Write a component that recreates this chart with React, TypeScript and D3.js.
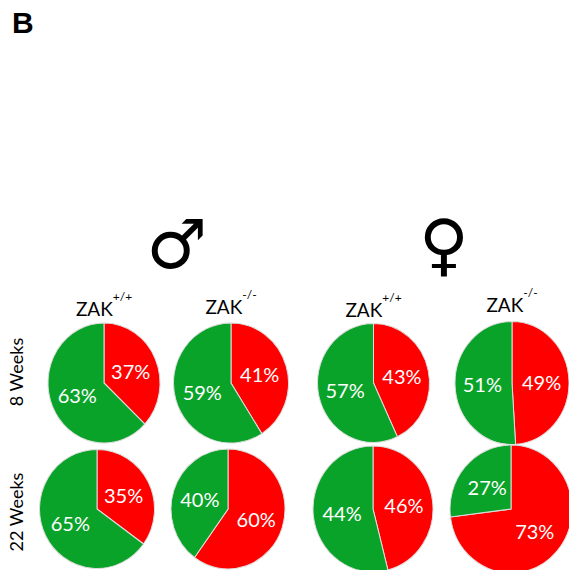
import * as d3 from 'd3'
import { useEffect, useRef } from 'react'

// data
const columns = ['M +/+', 'M -/-', 'F +/+', 'F -/-']
const genotypes = ['+/+', '-/-', '+/+', '-/-']
const sexes = ['♂', '♀']
const rows = ['8 Weeks', '22 Weeks']
// red share per pie (slice size), row by row
const redShare = [
  [37, 41, 43, 49],
  [35, 60, 46, 73],
]
// printed labels (as in the figure)
const redLabels = [
  ['37%', '41%', '43%', '49%'],
  ['35%', '60%', '46%', '73%'],
]
const greenLabels = [
  ['63%', '59%', '57%', '51%'],
  ['65%', '40%', '44%', '27%'],
]

const W = 569
const H = 570
const GREEN = '#09a329'
const RED = '#ff0000'
const LABEL_FONT = 'Lato, "Open Sans", sans-serif'

// layout
const colX = [
  [104, 231, 373.5, 512],
  [97, 228, 373, 511],
]
const rowY = [383, 509]
const radX = [
  [56, 57.5, 56, 57],
  [57.5, 57, 60, 61],
]
const radY = [
  [60, 60, 59.5, 61.5],
  [59.5, 60, 63, 64],
]

const App = () => {
  const ref = useRef<SVGSVGElement>(null)

  useEffect(() => {
    const svg = d3.select(ref.current)
    svg.selectAll('*').remove()
    svg.attr('width', W).attr('height', H)

    svg
      .append('text')
      .attr('x', 12)
      .attr('y', 33)
      .attr('font-family', '"Liberation Sans", Arial, sans-serif')
      .attr('font-weight', 'bold')
      .attr('font-size', 30)
      .text('B')

    // sex symbols
    const sexX = [177, 444]
    svg
      .selectAll('text.sex')
      .data(sexes)
      .join('text')
      .attr('class', 'sex')
      .attr('x', (d, i) => sexX[i])
      .attr('y', 268)
      .attr('text-anchor', 'middle')
      .attr('font-family', '"DejaVu Sans", sans-serif')
      .attr('font-size', 68)
      .text((d) => d)

    // headers
    const headY = [316, 314, 317, 312]
    columns.forEach((c, j) => {
      const t = svg
        .append('text')
        .attr('x', colX[0][j])
        .attr('y', headY[j])
        .attr('text-anchor', 'middle')
        .attr('font-family', LABEL_FONT)
        .attr('font-size', 19)
        .attr('fill', '#000')
        .text('ZAK')
      t.append('tspan')
        .attr('dy', -15)
        .attr('font-size', 12)
        .text(genotypes[j])
    })

    // row labels
    const rowLabelY = [372, 512]
    rows.forEach((r, i) => {
      svg
        .append('text')
        .attr('transform', `translate(23, ${rowLabelY[i]}) rotate(-90)`)
        .attr('text-anchor', 'middle')
        .attr('font-family', LABEL_FONT)
        .attr('font-size', 18)
        .text(r)
    })

    const pie = d3
      .pie<number>()
      .sort(null)
      .value((d) => d)

    rows.forEach((r, i) => {
      columns.forEach((c, j) => {
        const rx = radX[i][j]
        const ry = radY[i][j]
        const arcs = pie([redShare[i][j], 100 - redShare[i][j]])
        const arc = d3.arc<d3.PieArcDatum<number>>().innerRadius(0).outerRadius(rx)
        const g = svg
          .append('g')
          .attr('transform', `translate(${colX[i][j]}, ${rowY[i]})`)
        g.append('g')
          .attr('transform', `scale(1, ${ry / rx})`)
          .selectAll('path')
          .data(arcs)
          .join('path')
          .attr('d', arc)
          .attr('fill', (d, k) => (k === 0 ? RED : GREEN))
          .attr('stroke', '#dddddd')
          .attr('stroke-width', 1)

        const labelArc = d3
          .arc<d3.PieArcDatum<number>>()
          .innerRadius(rx * 0.52)
          .outerRadius(rx * 0.52)
        const labels = [redLabels[i][j], greenLabels[i][j]]
        g.selectAll('text')
          .data(arcs)
          .join('text')
          .attr('x', (d) => labelArc.centroid(d)[0])
          .attr('y', (d) => labelArc.centroid(d)[1] * (ry / rx))
          .attr('text-anchor', 'middle')
          .attr('dominant-baseline', 'central')
          .attr('font-family', LABEL_FONT)
          .attr('font-size', 20)
          .attr('fill', '#fff')
          .text((d, k) => labels[k])
      })
    })
  }, [])

  return (
    <div style={{ width: W, height: H }}>
      <svg
        ref={ref}
        style={{ display: 'block', position: 'absolute', left: 0, top: 0 }}
      ></svg>
    </div>
  )
}

export default App
